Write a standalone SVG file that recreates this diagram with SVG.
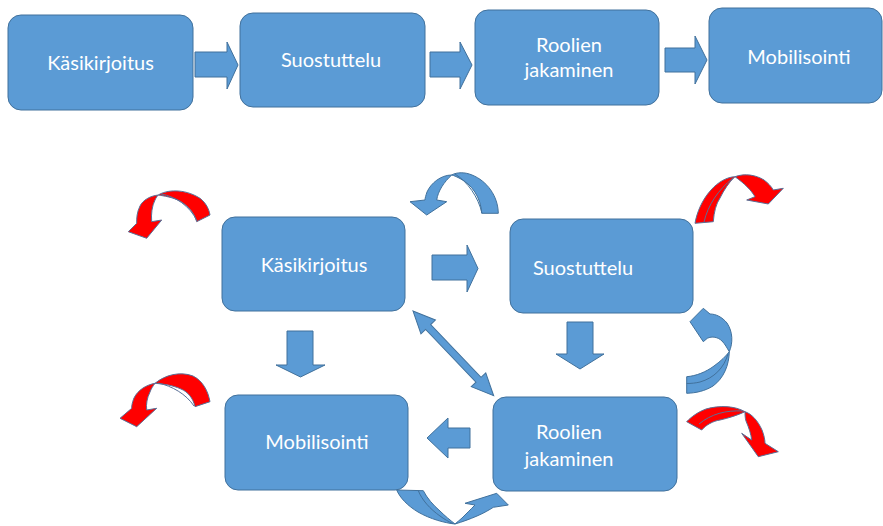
<svg xmlns="http://www.w3.org/2000/svg" width="883" height="526" viewBox="0 0 883 526">
<style>
.box{fill:#5b9bd5;stroke:#41719c;stroke-width:1}
.blk{fill:#5b9bd5;stroke:#41719c;stroke-width:1}
.red{fill:#ff0000;stroke:#5a6f96;stroke-width:1;stroke-linejoin:round}
.blu{fill:#5b9bd5;stroke:#41719c;stroke-width:1;stroke-linejoin:round}
.ln{fill:none;stroke:#5a6f96;stroke-width:1}
.lnb{fill:none;stroke:#41719c;stroke-width:1}
.t{font-family:Lato,"Liberation Sans",sans-serif;font-size:20px;fill:#ffffff;text-anchor:middle}
</style>
<rect width="883" height="526" fill="#ffffff"/>
<g id="top-kasikirjoitus"><rect class="box" x="8" y="15" width="185" height="95" rx="13"/><text class="t" x="100.5" y="70">Käsikirjoitus</text></g>
<g id="top-suostuttelu"><rect class="box" x="240" y="13" width="185" height="94" rx="13"/><text class="t" x="331" y="67">Suostuttelu</text></g>
<g id="top-roolien"><rect class="box" x="475" y="10" width="184" height="95" rx="13"/><text class="t" x="569" y="52">Roolien</text><text class="t" x="569" y="77">jakaminen</text></g>
<g id="top-mobilisointi"><rect class="box" x="709" y="8" width="173" height="95" rx="13"/><text class="t" x="799" y="64">Mobilisointi</text></g>
<g id="kasikirjoitus"><rect class="box" x="222" y="217" width="183" height="94" rx="13"/><text class="t" x="314" y="272">Käsikirjoitus</text></g>
<g id="suostuttelu"><rect class="box" x="510" y="219" width="183" height="94" rx="13"/><text class="t" x="583" y="275">Suostuttelu</text></g>
<g id="mobilisointi"><rect class="box" x="225" y="395" width="183" height="95" rx="13"/><text class="t" x="317" y="449">Mobilisointi</text></g>
<g id="roolien"><rect class="box" x="493" y="397" width="184" height="94" rx="13"/><text class="t" x="569" y="439">Roolien</text><text class="t" x="569" y="466">jakaminen</text></g>
<g id="connectors">
<polygon class="blk" points="195,52 227,52 227,42 238,65 227,89 227,77 195,77"/>
<polygon class="blk" points="430,52 460,52 460,42 472,65 460,89 460,77 430,77"/>
<polygon class="blk" points="665,48 695,48 695,36 707,60 695,84 695,72 665,72"/>
<polygon class="blk" points="432,255 467,255 467,245 478,268.5 467,292 467,280 432,280"/>
<polygon class="blk" points="287,331 313,331 313,365 325,365 300.5,377 276,365 287,365"/>
<polygon class="blk" points="567,322 593,322 593,354 604,354 580,369 556,354 567,354"/>
<polygon class="blk" points="470,428 448,428 448,418 427,438 448,458 448,448 470,448"/>
<polygon class="blk" transform="translate(413,311) rotate(46.4)" points="0,0 22,-10 22,-3.5 95,-3.5 95,-10 117,0 95,10 95,3.5 22,3.5 22,10"/>
<g id="curve-red-tl">
<path class="red" d="M158.3,195 C166,190 184,188 200,198.3 C206,203 209,209 210,215 L196.7,221.7 C194,212 188,206 180,201 C172,197 164,196 158.3,195 Z"/>
<path class="ln" d="M161,194 C175,196 190,206 197,221"/>
<path class="red" d="M158.3,195 C150,196 143,200 140,206 C137,212 136.5,218 136.7,223.3 L128.3,231.7 L146.7,238.3 L161.7,220 L151.7,221.7 C151,214 152,206 155,200 C156,198 157,196 158.3,195 Z"/>
</g>
<g id="curve-blue-top">
<path class="blu" d="M451.7,175 C457,172 465,172 472,175 C487,181 498,196 498.3,213.3 L481.7,213.3 C481,198 472,184 459,178 C456,176.5 454,175.5 451.7,175 Z"/>
<path class="lnb" d="M455,174 C468,182 478,197 482,213"/>
<path class="blu" d="M451.7,175 C441,175 431,183 427,192 C426,195 425,198 425,200 L410,201.7 L426.7,215 L446.7,201.7 L436.7,200 C438,191 444,182 451.7,175 Z"/>
</g>
<g id="curve-red-tr">
<path class="red" d="M735,176.7 C727,177 718,182 711,190 C702,200 697,212 695,223.3 L713.3,221.7 C714,212 716,204 720,198 C724,190 729,182 735,176.7 Z"/>
<path class="ln" d="M733,178 C718,190 708,205 704,222"/>
<path class="red" d="M735,176.7 C745,173 756,175 764,180 C768,183 771,186 773.3,190 L783.3,188.3 L768.3,204 L746.7,200 L755,196.7 C751,190 745,184 735,176.7 Z"/>
</g>
<g id="curve-blue-right">
<path class="blu" d="M729.3,351.7 C733,343 733,332 727,323 C722,317 716,314 710,314 L703.3,308.3 L690,321.7 L703.3,341.7 L707.3,338.3 C712,336 718,337 722,341 C725,344 727,348 729.3,351.7 Z"/>
<path class="blu" d="M729.3,351.7 C729,365 724,378 713,386 C705,391 696,393 686.7,393.3 L686.7,376.7 C696,376 706,372 714,366 C721,361 726,356 729.3,351.7 Z"/>
<path class="lnb" d="M728,354 C724,368 714,378 700,382 C696,383 691,383.5 686.7,383.5"/>
</g>
<g id="curve-red-ml">
<path class="red" d="M155,383.3 C165,375 180,371 193,376 C203,381 208,391 210,401.7 L195,406.7 C193,398 188,392 181,389 C172,385 163,384 155,383.3 Z"/>
<path class="ln" d="M158,383 C172,386 186,394 194,406"/>
<path class="red" d="M155,383.3 C146,385 138,390 134,398 C132,403 131.5,407 131.7,408.3 L120,418.3 L136.7,426.7 L156.7,408.3 L146.7,410 C146,404 147,398 150,392 C151,389 153,386 155,383.3 Z"/>
</g>
<g id="curve-red-mr">
<path class="red" d="M745,411.7 C735,406 720,405 706,409 C698,412 691,417 686.7,421.7 L701.7,430 C706,425 713,421 720,420 C729,418 738,415 745,411.7 Z"/>
<path class="ln" d="M743,411 C726,410 711,414 699,424"/>
<path class="red" d="M745,411.7 C752,414 758,421 762,430 C764,435 765,440 765,443.3 L778.3,451.7 L758.3,456.7 L741.7,433.3 L751.7,440 C751,434 749,428 746,421 C745,418 745,414 745,411.7 Z"/>
</g>
<g id="curve-blue-bottom">
<path class="blu" d="M455,524 C445,523 430,519 418,512 C408,506 400,498 396.7,490 L423.3,490.7 C427,498 433,505 440,511 C445,516 450,520 455,524 Z"/>
<path class="lnb" d="M418.3,490.7 C422,500 430,509 440,516 C444,519 449,522 453,523.5"/>
<path class="blu" d="M455,524 C462,522 470,519 477,516 C484,513 489,510 493.3,507.3 L508.3,505 L496.7,493.3 L465,503.3 L475,505 C470,510 466,514 462,518 C460,520 457,522 455,524 Z"/>
</g>
</g>
</svg>
